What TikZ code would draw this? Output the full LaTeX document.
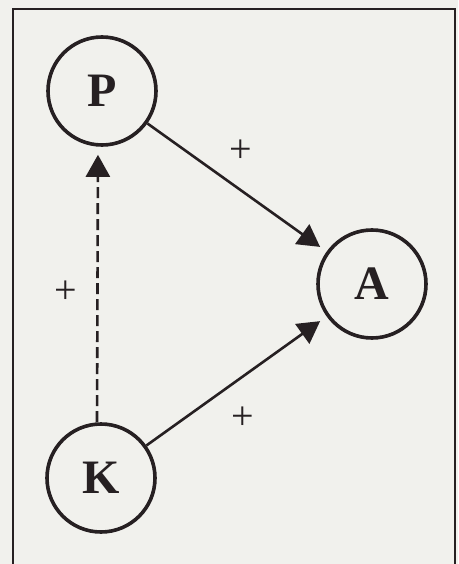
\documentclass[tikz,border=0pt]{standalone}
\usepackage{fontspec}
\setmainfont{Liberation Serif}
\usetikzlibrary{arrows.meta}
\definecolor{paper}{RGB}{241,241,237}
\definecolor{ink}{RGB}{38,32,34}
\begin{document}
\begin{tikzpicture}[x=1pt,y=-1pt,
  varnode/.style={circle,draw=ink,line width=3.6pt,minimum size=108pt,inner sep=0pt,font=\fontsize{48}{48}\selectfont\bfseries,text=ink},
  conn/.style={draw=ink,line width=2.6pt,-{Triangle[length=22pt,width=24pt]},shorten >=8pt},
  sign/.style={font=\fontsize{40}{40}\selectfont,text=ink,inner sep=0pt}]
\fill[paper] (0,0) rectangle (458,564);
\useasboundingbox (0,0) rectangle (458,564);
\draw[ink,line width=1.8pt] (13,564) -- (13,9) -- (455,9) -- (455,564);
\node[varnode] (P) at (102,91) {P};
\node[varnode] (A) at (372,284) {A};
\node[varnode] (K) at (101,478) {K};
\draw[conn] (P) -- (A);
\draw[conn] (K) -- (A);
\draw[conn,dash pattern=on 11pt off 5pt] ([xshift=-4pt]K.north) -- ([xshift=-4pt]P.south);
\node[sign] (s1) at (241,151) {+};
\node[sign] (s2) at (66,292) {+};
\node[sign] (s3) at (243,418) {+};
\end{tikzpicture}
\end{document}
